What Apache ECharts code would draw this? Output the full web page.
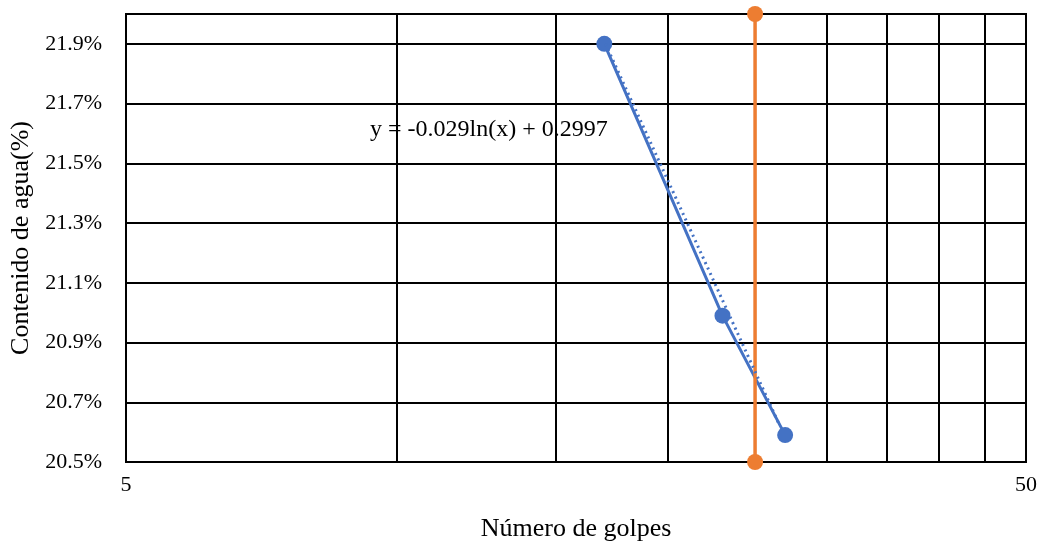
<!DOCTYPE html>
<html>
<head>
<meta charset="utf-8">
<script src="https://cdn.jsdelivr.net/npm/echarts@6/dist/echarts.min.js"></script>
<style>
  html, body { margin: 0; padding: 0; background: #fff; }
  #chart { width: 1045px; height: 547px; }
</style>
</head>
<body>
<div id="chart"></div>
<script>
// Measured blow counts and water contents (%)
const golpes = [17, 23, 27];
const contenido = [21.90, 20.99, 20.59];

// Logarithmic trendline endpoints (blows, %)
const tendenciaX = [17.05, 26.6];
const tendenciaY = [21.90, 20.625];

// Vertical reference line at 25 blows
const refX = [25, 25];
const refY = [20.5, 22.0];

// Minor vertical gridlines on the log axis
const lineasX = [10, 15, 20, 25, 30, 35, 40, 45];

// Axis range and labels
const yMin = 20.5, yMax = 22.0, yStep = 0.2;
const xMin = 5, xMax = 50;
const xLabels = [5, 50];

const ecuacion = 'y = -0.029ln(x) + 0.2997';
const fuente = "'Liberation Serif', 'Times New Roman', serif";

const chart = echarts.init(document.getElementById('chart'), null, { renderer: 'canvas' });

const zip = (xs, ys) => xs.map((x, i) => [x, ys[i]]);

chart.setOption({
  animation: false,
  backgroundColor: '#fff',
  grid: {
    left: 126, right: 19, top: 14, bottom: 81,
    show: true, borderColor: '#000', borderWidth: 2
  },
  xAxis: {
    type: 'log',
    logBase: 10,
    min: xMin,
    max: xMax,
    name: 'Número de golpes',
    nameLocation: 'middle',
    nameGap: 54,
    nameTextStyle: { fontFamily: fuente, fontSize: 26, color: '#000' },
    axisLine: { show: true, lineStyle: { color: '#000', width: 2 } },
    axisTick: { show: false },
    splitLine: { show: false },
    axisLabel: {
      fontFamily: fuente, fontSize: 22, color: '#000', margin: 12,
      showMinLabel: true, showMaxLabel: true,
      formatter: v => xLabels.some(l => Math.abs(l - v) < 1e-6) ? String(Math.round(v)) : ''
    }
  },
  yAxis: {
    type: 'value',
    min: yMin,
    max: yMax,
    interval: yStep,
    name: 'Contenido de agua(%)',
    nameLocation: 'middle',
    nameGap: 89,
    nameRotate: 90,
    nameTextStyle: { fontFamily: fuente, fontSize: 26, color: '#000' },
    axisLine: { show: true, lineStyle: { color: '#000', width: 2 } },
    axisTick: { show: false },
    splitLine: { show: true, lineStyle: { color: '#000', width: 2 } },
    axisLabel: {
      fontFamily: fuente, fontSize: 22, color: '#000', margin: 24,
      showMaxLabel: false,
      formatter: v => v.toFixed(1) + '%'
    }
  },
  series: [
    {
      name: 'gridlines',
      type: 'line',
      data: [],
      silent: true,
      z: 0,
      markLine: {
        silent: true,
        symbol: 'none',
        z: 0,
        label: { show: false },
        lineStyle: { color: '#000', width: 2, type: 'solid' },
        data: lineasX.map(x => ({ xAxis: x }))
      }
    },
    {
      name: 'Contenido',
      type: 'line',
      data: zip(golpes, contenido),
      symbol: 'circle',
      symbolSize: 16,
      itemStyle: { color: '#4472C4' },
      lineStyle: { color: '#4472C4', width: 3 },
      z: 6
    },
    {
      name: 'Referencia',
      type: 'line',
      data: zip(refX, refY),
      symbol: 'circle',
      symbolSize: 16,
      clip: false,
      itemStyle: { color: '#ED7D31' },
      lineStyle: { color: '#ED7D31', width: 3.5 },
      z: 7
    },
    {
      name: 'Tendencia',
      type: 'line',
      data: zip(tendenciaX, tendenciaY),
      symbol: 'none',
      lineStyle: { color: '#4472C4', width: 3, type: [2, 4] },
      z: 8
    }
  ],
  graphic: [
    {
      type: 'text',
      left: 370,
      top: 118,
      z: 10,
      style: {
        text: ecuacion,
        fontFamily: fuente,
        fontSize: 24,
        fill: '#000'
      }
    }
  ]
});
</script>
</body>
</html>
